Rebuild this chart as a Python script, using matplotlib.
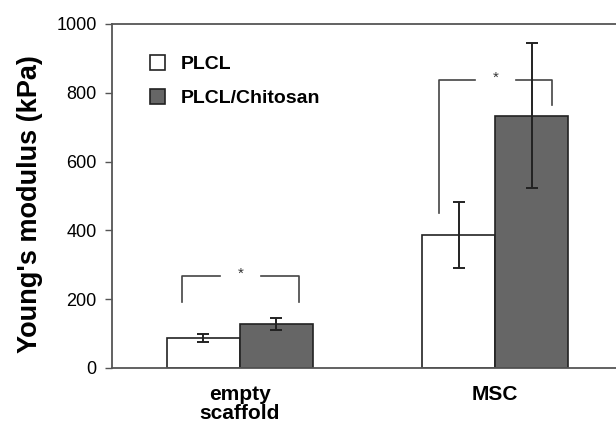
import matplotlib
matplotlib.use('Agg')
import matplotlib.pyplot as plt
import numpy as np

plt.rcParams['font.family'] = ['Liberation Sans', 'DejaVu Sans']

# data
groups = ['empty\nscaffold', 'MSC']
plcl = [87, 387]
plcl_err = [12, 97]
chitosan = [128, 734]
chitosan_err = [17, 211]
labels = ['PLCL', 'PLCL/Chitosan']

# significance brackets: (left x, right x, top y, left foot, right foot)
brackets = [(-0.225, 0.233, 267, 193, 193),
            (0.778, 1.222, 837, 450, 764)]

fig = plt.figure(figsize=(6.16, 4.24), dpi=100)
ax = fig.add_axes([112/616, 56/424, 511/616, 344/424])

x = np.arange(len(groups))
w = 0.286
ax.bar(x - w/2, plcl, w, color='white', edgecolor='#222222', linewidth=1.2,
       label=labels[0], zorder=2)
ax.bar(x + w/2, chitosan, w, color='#666666', edgecolor='#222222', linewidth=1.2,
       label=labels[1], zorder=2)
ax.errorbar(x - w/2, plcl, yerr=plcl_err, fmt='none', ecolor='#222222',
            elinewidth=1.4, capsize=4, capthick=1.4, zorder=3)
ax.errorbar(x + w/2, chitosan, yerr=chitosan_err, fmt='none', ecolor='#222222',
            elinewidth=1.4, capsize=4, capthick=1.4, zorder=3)

# brackets with a gap for the star
for x0, x1, ytop, yl, yr in brackets:
    mid = (x0 + x1) / 2
    gap = 0.08
    ax.plot([x0, x0, mid - gap], [yl, ytop, ytop], color='#444444', lw=1.2, zorder=1)
    ax.plot([mid + gap, x1, x1], [ytop, ytop, yr], color='#444444', lw=1.2, zorder=1)
    ax.text(mid, ytop + 8, '*', ha='center', va='center', fontsize=11, color='#333333')

ax.set_xlim(-0.5, 1.5)
ax.set_ylim(0, 1000)
ax.set_yticks([0, 200, 400, 600, 800, 1000])
ax.set_xticks(x)
ax.set_xticklabels(groups, fontsize=15, fontweight='bold', linespacing=1.0)
ax.tick_params(axis='x', length=0, pad=12)
ax.tick_params(axis='y', labelsize=13, length=5, width=1, pad=6, color='#555555')
ax.set_ylabel("Young's modulus (kPa)", fontsize=19.5, fontweight='bold')
ax.yaxis.set_label_coords(-0.135, 0.478)

for s in ax.spines.values():
    s.set_color('#555555')
    s.set_linewidth(1.3)

ax.legend(loc='upper left', bbox_to_anchor=(0.04, 0.96), frameon=False,
          prop={'weight': 'bold', 'size': 14},
          handlelength=0.8, handleheight=0.8, handletextpad=0.8, labelspacing=0.8)

fig.savefig('out.png', dpi=100)
